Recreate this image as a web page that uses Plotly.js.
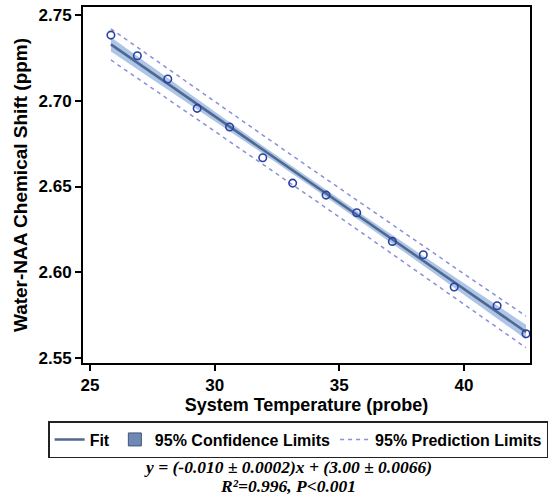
<!DOCTYPE html>
<html>
<head>
<meta charset="utf-8">
<script src="https://cdn.plot.ly/plotly-3.0.1.min.js"></script>
<style>html,body{margin:0;padding:0;background:#fff;}#chart{width:553px;height:500px;}</style>
</head>
<body>
<div id="chart"></div>
<script>
// Observed data points (temperature, chemical shift)
var tempObs = [25.84, 26.90, 28.12, 29.30, 30.60, 31.93, 33.13, 34.47, 35.70, 37.13, 38.37, 39.61, 41.33, 42.49];
var shiftObs = [2.7383, 2.7263, 2.7127, 2.6956, 2.6847, 2.6668, 2.6520, 2.6450, 2.6347, 2.6180, 2.6102, 2.5914, 2.5805, 2.5642];

// Fit line end points
var fitX = [25.84, 42.49];
var fitY = [2.7329, 2.5652];

// Band positions and limits
var bandX = [25.84, 28, 30, 32, 33.92, 36, 38, 40, 42.49];
var ciUpper = [2.7370, 2.7144, 2.6937, 2.6731, 2.6536, 2.6328, 2.6131, 2.5936, 2.5694];
var ciLower = [2.7288, 2.7078, 2.6883, 2.6686, 2.6494, 2.6283, 2.6077, 2.5869, 2.5610];
var piUpper = [2.7420, 2.7199, 2.6995, 2.6793, 2.6599, 2.6390, 2.6190, 2.5991, 2.5744];
var piLower = [2.7238, 2.7023, 2.6824, 2.6624, 2.6431, 2.6221, 2.6018, 2.5815, 2.5560];

var xTicks = [25, 30, 35, 40];
var yTicks = [2.55, 2.60, 2.65, 2.70, 2.75];

var legendNames = ['Fit', '95% Confidence Limits', '95% Prediction Limits'];
var equationLine1 = 'y = (-0.010 ± 0.0002)x + (3.00 ± 0.0066)';
var equationLine2 = 'R²=0.996, P<0.001';

var fitColor = '#4e6890';
var bandColor = 'rgba(122,162,214,0.62)';
var piColor = '#8790d8';
var markerColor = '#2b40a3';

var traces = [
  {x: bandX, y: ciLower, mode: 'lines', line: {width: 0, color: bandColor}, showlegend: false, hoverinfo: 'skip'},
  {x: bandX, y: ciUpper, mode: 'lines', fill: 'tonexty', fillcolor: bandColor, line: {width: 0, color: bandColor}, showlegend: false},
  {x: bandX, y: piUpper, mode: 'lines', line: {color: piColor, width: 1.5, dash: '4px,4px'}, name: legendNames[2], legendgroup: 'pi', legendrank: 3},
  {x: bandX, y: piLower, mode: 'lines', line: {color: piColor, width: 1.5, dash: '4px,4px'}, showlegend: false, legendgroup: 'pi'},
  {x: fitX, y: fitY, mode: 'lines', line: {color: fitColor, width: 2.5}, name: legendNames[0], legendrank: 1},
  {x: tempObs, y: shiftObs, mode: 'markers', marker: {symbol: 'circle-open', size: 7.5, color: markerColor, line: {width: 1.6, color: markerColor}}, showlegend: false},
  // legend-only entry for the confidence band (square swatch)
  {x: [null], y: [null], mode: 'markers', marker: {symbol: 'square', size: 13, color: '#6f89b4', line: {color: '#3d5580', width: 1}}, name: legendNames[1], legendrank: 2}
];

var axisCommon = {
  showline: true, linewidth: 2, linecolor: '#000', mirror: true,
  ticks: 'outside', ticklen: 6, tickwidth: 2, tickcolor: '#000',
  showgrid: false, zeroline: false,
  tickfont: {family: 'Liberation Sans, Arial, sans-serif', size: 17, color: '#000', weight: 'bold'}
};

var layout = {
  width: 553, height: 500,
  margin: {l: 83, r: 23, t: 7, b: 137},
  paper_bgcolor: '#fff', plot_bgcolor: '#fff',
  font: {family: 'Liberation Sans, Arial, sans-serif', color: '#000'},
  xaxis: Object.assign({}, axisCommon, {
    range: [24.72, 42.65], tickvals: xTicks, ticktext: xTicks.map(String),
    title: {text: '<b>System Temperature (probe)</b>', font: {size: 18, family: 'Liberation Sans, Arial, sans-serif', color: '#000'}, standoff: 4}
  }),
  yaxis: Object.assign({}, axisCommon, {
    range: [2.5471, 2.7547], tickvals: yTicks, ticktext: yTicks.map(function(v){return v.toFixed(2);}),
    title: {text: '<b>Water-NAA Chemical Shift (ppm)</b>', font: {size: 19, family: 'Liberation Sans, Arial, sans-serif', color: '#000'}, standoff: 6}
  }),
  showlegend: true,
  legend: {
    orientation: 'h', x: -0.078, xanchor: 'left', y: -0.163, yanchor: 'top',
    bordercolor: '#222', borderwidth: 1.5, bgcolor: '#fff',
    font: {size: 16, family: 'Liberation Sans, Arial, sans-serif', color: '#000', weight: 'bold'},
    traceorder: 'normal', itemwidth: 30, tracegroupgap: 0
  },
  annotations: [
    {xref: 'paper', yref: 'paper', x: 0.459, y: -0.292, xanchor: 'center', yanchor: 'middle', showarrow: false,
     text: '<b><i>' + equationLine1 + '</i></b>', font: {family: 'Liberation Serif, Times New Roman, serif', size: 17.5, color: '#000'}},
    {xref: 'paper', yref: 'paper', x: 0.459, y: -0.345, xanchor: 'center', yanchor: 'middle', showarrow: false,
     text: '<b><i>' + equationLine2 + '</i></b>', font: {family: 'Liberation Serif, Times New Roman, serif', size: 17.5, color: '#000'}}
  ]
};

Plotly.newPlot('chart', traces, layout, {displayModeBar: false, staticPlot: true});
</script>
</body>
</html>
